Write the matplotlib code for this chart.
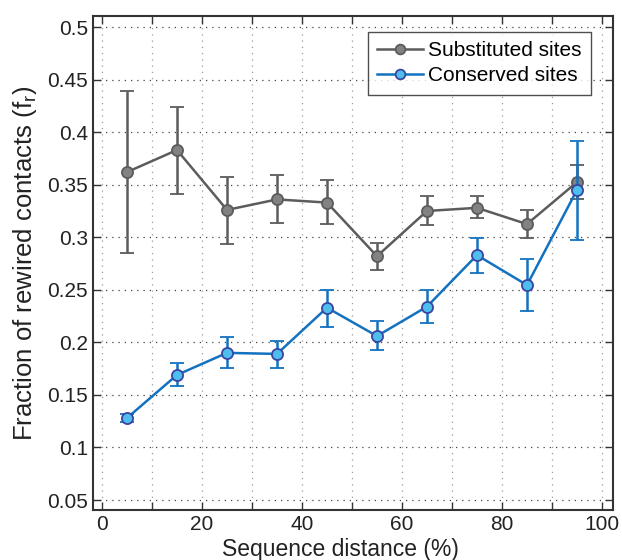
import matplotlib
matplotlib.use("Agg")
import matplotlib.pyplot as plt
from matplotlib.ticker import MultipleLocator, FuncFormatter
from matplotlib.lines import Line2D

plt.rcParams['font.family'] = ['Liberation Sans', 'DejaVu Sans']
plt.rcParams['mathtext.fontset'] = 'custom'
plt.rcParams['mathtext.rm'] = 'Liberation Sans'
plt.rcParams['mathtext.it'] = 'Liberation Sans'

x = [5, 15, 25, 35, 45, 55, 65, 75, 85, 95]
subst = [0.362, 0.383, 0.326, 0.336, 0.333, 0.282, 0.325, 0.328, 0.3125, 0.3525]
subst_hi = [0.439, 0.424, 0.357, 0.359, 0.354, 0.295, 0.339, 0.339, 0.326, 0.369]
subst_lo = [0.285, 0.341, 0.294, 0.314, 0.313, 0.269, 0.312, 0.318, 0.299, 0.336]
cons = [0.128, 0.169, 0.190, 0.189, 0.233, 0.206, 0.234, 0.283, 0.2545, 0.345]
cons_hi = [0.132, 0.180, 0.205, 0.201, 0.250, 0.220, 0.250, 0.299, 0.279, 0.392]
cons_lo = [0.124, 0.158, 0.176, 0.176, 0.215, 0.193, 0.218, 0.266, 0.230, 0.297]
labels = ['Substituted sites', 'Conserved sites']
yticks = [0.05, 0.1, 0.15, 0.2, 0.25, 0.3, 0.35, 0.4, 0.45, 0.5]
ytick_labels = ['0.05', '0.1', '0.15', '0.2', '0.25', '0.3', '0.35', '0.4', '0.45', '0.5']

fig = plt.figure(figsize=(6.22, 5.6), dpi=100)
ax = fig.add_axes([0.1495, 0.0893, 0.836, 0.8821])

def errs(v, lo, hi):
    return [[a - b for a, b in zip(v, lo)], [b - a for a, b in zip(v, hi)]]

gray_style = dict(color='#5c5c5c', lw=1.8, marker='o', ms=8, mfc='#828282',
                  mec='#5c5c5c', mew=1.3)
blue_style = dict(color='#1372c0', lw=1.8, marker='o', ms=8, mfc='#4dbeee',
                  mec='#3a45a0', mew=1.3)

ax.errorbar(x, subst, yerr=errs(subst, subst_lo, subst_hi), elinewidth=1.8,
            capsize=5, capthick=1.8, zorder=3, **gray_style)
ax.errorbar(x, cons, yerr=errs(cons, cons_lo, cons_hi), elinewidth=1.8,
            capsize=5, capthick=1.8, zorder=4, **blue_style)

ax.set_xlim(-1.8, 102.2)
ax.set_ylim(0.0405, 0.5105)
ax.xaxis.set_major_locator(MultipleLocator(10))
ax.xaxis.set_major_formatter(FuncFormatter(
    lambda v, p: '%d' % round(v) if round(v) % 20 == 0 else ''))
ax.set_yticks(yticks)
ax.set_yticklabels(ytick_labels)
ax.xaxis.grid(True, ls=(0, (1, 4)), color='#9a9a9a', lw=0.9)
ax.yaxis.grid(True, ls=(0, (1, 4)), color='#444444', lw=0.9)
ax.tick_params(which='both', direction='in', top=True, right=True, labelsize=15,
               color='#333333', labelcolor='#222222')
ax.tick_params(which='major', length=6, width=1)
for s in ax.spines.values():
    s.set_linewidth(1.5)
    s.set_color('#333333')

ax.set_xlabel('Sequence distance (%)', fontsize=16.5, labelpad=2, color='#222222')
ax.xaxis.set_label_coords(0.475, -0.057)
ax.set_ylabel(r'Fraction of rewired contacts (f$_\mathrm{r}$)', fontsize=18.5,
              labelpad=6, color='#222222')

handles = [Line2D([], [], **gray_style), Line2D([], [], **blue_style)]
for h in handles:
    h.set_markersize(7)
leg = ax.legend(handles, labels, loc='upper right', fontsize=15, frameon=True,
                fancybox=False, edgecolor='#222222', borderpad=0.45,
                handlelength=2.2, handletextpad=0.25, labelspacing=0.3,
                borderaxespad=0, bbox_to_anchor=(0.958, 0.968))
leg.get_frame().set_linewidth(1.0)

fig.savefig('out.png', dpi=100)
